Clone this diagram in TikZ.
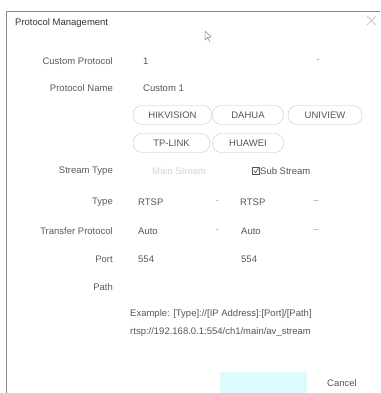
\documentclass[tikz,border=0pt]{standalone}
\usepackage{fontspec}
\setmainfont{Liberation Sans}
\usepackage{xcolor}
\usepackage{tikz}
\usetikzlibrary{calc}

\definecolor{framegrey}{HTML}{8A8A8A}
\definecolor{titlegrey}{HTML}{333333}
\definecolor{labelgrey}{HTML}{5A5A5A}
\definecolor{valgrey}{HTML}{555555}
\definecolor{pillgrey}{HTML}{C4C4C4}
\definecolor{paleinfo}{HTML}{C8C8C8}
\definecolor{dropgrey}{HTML}{999999}
\definecolor{okcyan}{HTML}{DDFBFD}

\tikzset{
  lbl/.style={anchor=east, inner sep=0pt, text=labelgrey, font=\fontsize{9.5}{11}\selectfont},
  val/.style={anchor=west, inner sep=0pt, text=valgrey, font=\fontsize{9.5}{11}\selectfont},
  pill/.style={draw=pillgrey, rounded corners=9pt, minimum height=19pt, inner sep=0pt,
    text=valgrey, font=\fontsize{9.5}{11}\selectfont},
  arrowmark/.style={inner sep=0pt, text=dropgrey, font=\fontsize{9}{11}\selectfont}
}

\begin{document}
\begin{tikzpicture}[x=1pt,y=-1pt]
                \useasboundingbox (0,0) rectangle (380,393);
                \fill[white] (0,0) rectangle (380,393);
                % Dialog frame
                \draw[framegrey, line width=0.9pt] (6.5,393) -- (6.5,11.5) -- (380,11.5);
                \node[anchor=west, inner sep=0pt, text=titlegrey, font=\fontsize{9.5}{11}\selectfont] (title) at (15,23) {Protocol Management};
                \draw[paleinfo, line width=0.8pt] (367,16) -- (376,25) (367,25) -- (376,16);
                % Cursor
                \draw[titlegrey!60, line width=0.5pt] (205,31) -- (205,40) -- (207.5,37.5) -- (210,42) (205,31) -- (211,37) -- (207.5,37.5);
                % Custom protocol
                \node[lbl] (cplbl) at (113,61) {Custom Protocol};
                \node[val] (cpval) at (143,61) {1};
                \node[arrowmark] (cpdrop) at (318,61) {-};
                \node[lbl] (pnlbl) at (113,88) {Protocol Name};
                \node[val] (pnval) at (143,88) {Custom 1};
                % Vendor buttons
                \node[pill, minimum width=79pt] (hik) at (172.5,115) {HIKVISION};
                \node[pill, minimum width=71pt] (dahua) at (248,115) {DAHUA};
                \node[pill, minimum width=74pt] (uniview) at (325,115) {UNIVIEW};
                \node[pill, minimum width=77pt] (tplink) at (171.5,143) {TP-LINK};
                \node[pill, minimum width=71pt] (huawei) at (248,143) {HUAWEI};
                % Stream type
                \node[lbl] (stlbl) at (113,171) {Stream Type};
                \node[val, text=paleinfo!80] (mainst) at (152,171) {Main Stream};
                \draw[valgrey, line width=0.5pt] (252.5,167) rectangle (259.5,174);
                \draw[valgrey, line width=0.6pt] (253.8,170.6) -- (255.6,172.6) -- (258.4,168.2);
                \node[val] (subst) at (260,171) {Sub Stream};
                % Type
                \node[lbl] (tylbl) at (113,202) {Type};
                \node[val] (tymain) at (138,202) {RTSP};
                \node[arrowmark] (tydropa) at (217,202) {-};
                \node[val] (tysub) at (240,202) {RTSP};
                \node[arrowmark] (tydropb) at (316,202) {--};
                % Transfer protocol
                \node[lbl] (tplbl) at (113,231) {Transfer Protocol};
                \node[val] (tpmain) at (138,231) {Auto};
                \node[arrowmark] (tpdropa) at (217,231) {-};
                \node[val] (tpsub) at (241,231) {Auto};
                \node[arrowmark] (tpdropb) at (316,231) {--};
                % Port and path
                \node[lbl] (ptlbl) at (113,259) {Port};
                \node[val] (ptmain) at (138,259) {554};
                \node[val] (ptsub) at (241,259) {554};
                \node[lbl] (pathlbl) at (113,287) {Path};
                \node[val] (example) at (130,314) {Example: [Type]://[IP Address]:[Port]/[Path]};
                \node[val] (rtsp) at (130,332) {rtsp://192.168.0.1:554/ch1/main/av\_stream};
                % Buttons
                \fill[okcyan] (220,372) rectangle (307,393);
                \node[val] (cancel) at (327,383) {Cancel};
            \end{tikzpicture}
\end{document}
